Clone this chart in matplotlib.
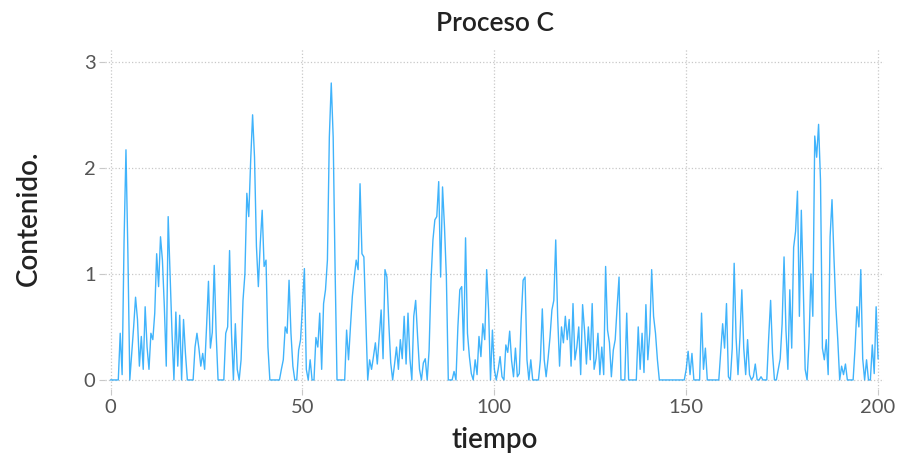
import numpy as np
import matplotlib
matplotlib.use("Agg")
import matplotlib.pyplot as plt

plt.rcParams['font.family'] = ['Lato', 'DejaVu Sans']

# Sampling step of the series (time units)
step = 0.5

# Process C content, one list per 10 time units (samples at step 0.5)
c_000 = [0, 0, 0, 0, 0, 0.44, 0.05, 1.3, 2.17, 1.2,
         0, 0.25, 0.5, 0.78, 0.57, 0.13, 0.41, 0.1, 0.69, 0.31]
c_010 = [0.1, 0.44, 0.38, 0.63, 1.19, 0.88, 1.35, 1.13, 0.69, 0.13,
         1.54, 1.0, 0.44, 0, 0.64, 0.13, 0.61, 0, 0.57, 0.25]
c_020 = [0, 0, 0, 0, 0.31, 0.44, 0.3, 0.13, 0.25, 0.1,
         0.5, 0.93, 0.3, 0.45, 1.08, 0.44, 0, 0, 0, 0]
c_030 = [0.44, 0.5, 1.22, 0.44, 0, 0.53, 0.1, 0, 0.19, 0.75,
         1.0, 1.76, 1.54, 2.07, 2.5, 2.1, 1.26, 0.88, 1.29, 1.6]
c_040 = [1.07, 1.13, 0.31, 0, 0, 0, 0, 0, 0, 0.1,
         0.19, 0.5, 0.44, 0.94, 0.44, 0.13, 0, 0, 0.28, 0.38]
c_050 = [0.7, 1.05, 0.1, 0, 0.19, 0, 0, 0.4, 0.31, 0.63,
         0.1, 0.72, 0.85, 1.13, 2.29, 2.8, 2.29, 1.04, 0, 0]
c_060 = [0, 0, 0, 0.47, 0.19, 0.5, 0.79, 0.97, 1.13, 1.04,
         1.85, 1.19, 1.16, 0.57, 0, 0.19, 0.1, 0.22, 0.35, 0.15]
c_070 = [0.41, 0.66, 0.2, 1.04, 0.97, 0.53, 0.16, 0, 0.15, 0.31,
         0.1, 0.38, 0.2, 0.6, 0.15, 0.63, 0.2, 0, 0.6, 0.75]
c_080 = [0.41, 0.1, 0, 0.16, 0.2, 0, 0.28, 0.94, 1.32, 1.51,
         1.54, 1.87, 0.97, 1.82, 1.45, 0.97, 0, 0, 0, 0.08]
c_090 = [0, 0.5, 0.85, 0.88, 0.28, 1.34, 0.44, 0.22, 0.06, 0,
         0.19, 0.05, 0.41, 0.22, 0.53, 0.38, 1.04, 0.66, 0, 0.47]
c_100 = [0.1, 0, 0.1, 0.22, 0.03, 0, 0.33, 0.26, 0.46, 0.18,
         0.03, 0.3, 0.03, 0.06, 0.57, 0.94, 0.97, 0.19, 0, 0.19]
c_110 = [0, 0, 0, 0, 0.19, 0.67, 0.19, 0.03, 0.2, 0.4,
         0.66, 0.75, 1.32, 0.6, 0.13, 0.5, 0.35, 0.6, 0.38, 0.57]
c_120 = [0.13, 0.72, 0.19, 0.31, 0.5, 0.05, 0.71, 0.47, 0.15, 0.5,
         0.19, 0.72, 0.1, 0.2, 0.44, 0.05, 0.31, 0.05, 1.07, 0.47]
c_130 = [0.35, 0.03, 0.28, 0.38, 0.69, 0.97, 0, 0, 0, 0.63,
         0, 0, 0, 0, 0, 0.5, 0.1, 0.44, 0.07, 0.71]
c_140 = [0.19, 0.44, 1.04, 0.6, 0.44, 0.19, 0, 0, 0, 0,
         0, 0, 0, 0, 0, 0, 0, 0, 0, 0]
c_150 = [0.1, 0.27, 0.05, 0.25, 0, 0, 0, 0, 0.63, 0.1,
         0.3, 0, 0, 0, 0, 0, 0, 0, 0.27, 0.53]
c_160 = [0.3, 0.72, 0.03, 0, 0.3, 1.1, 0.4, 0.05, 0.4, 0.85,
         0.3, 0.05, 0.38, 0.05, 0, 0.03, 0.15, 0, 0, 0.03]
c_170 = [0, 0, 0, 0.4, 0.75, 0.25, 0, 0, 0.1, 0.2,
         0.53, 1.16, 0.47, 0.1, 0.85, 0.3, 1.25, 1.4, 1.78, 0.6]
c_180 = [1.6, 0.9, 0.1, 0, 0.35, 1.0, 0.6, 2.3, 2.1, 2.41,
         1.88, 0.3, 0.19, 0.38, 0.05, 1.35, 1.7, 1.16, 0.69, 0.38]
c_190 = [0, 0.13, 0.05, 0.15, 0, 0, 0, 0, 0.3, 0.69,
         0.5, 1.04, 0.2, 0, 0.19, 0, 0, 0.33, 0.06, 0.69]
c_200 = [0.2]

contenido = np.array(c_000 + c_010 + c_020 + c_030 + c_040 + c_050 + c_060
                     + c_070 + c_080 + c_090 + c_100 + c_110 + c_120 + c_130
                     + c_140 + c_150 + c_160 + c_170 + c_180 + c_190 + c_200)
tiempo = np.arange(len(contenido)) * step

x_ticks = [0, 50, 100, 150, 200]
y_ticks = [0, 1, 2, 3]

fig = plt.figure(figsize=(8.98, 4.58), dpi=100)
ax = fig.add_axes([0.1172, 0.1496, 0.867, 0.7456])

ax.plot(tiempo, contenido, color='#009AFA', lw=1.0, alpha=0.75)

ax.set_xlim(-1.4, 201.5)
ax.set_ylim(-0.09, 3.13)
ax.set_xticks(x_ticks)
ax.set_yticks(y_ticks)
ax.grid(True, color='#c8c8c8', linestyle=':', linewidth=0.9)
ax.set_axisbelow(True)
for s in ax.spines.values():
    s.set_visible(False)
ax.tick_params(axis='both', length=4, color='#c8c8c8', width=0.8,
               labelsize=14.5, labelcolor='#555555', pad=3)

ax.set_title('Proceso C', fontsize=19, fontweight='semibold',
             color='#222222', pad=12)
ax.set_xlabel('tiempo', fontsize=20, fontweight='semibold',
              color='#222222', labelpad=8)
ax.set_ylabel('Contenido.', fontsize=20, fontweight='semibold',
              color='#222222', labelpad=30)

fig.savefig('out.png', dpi=100)
